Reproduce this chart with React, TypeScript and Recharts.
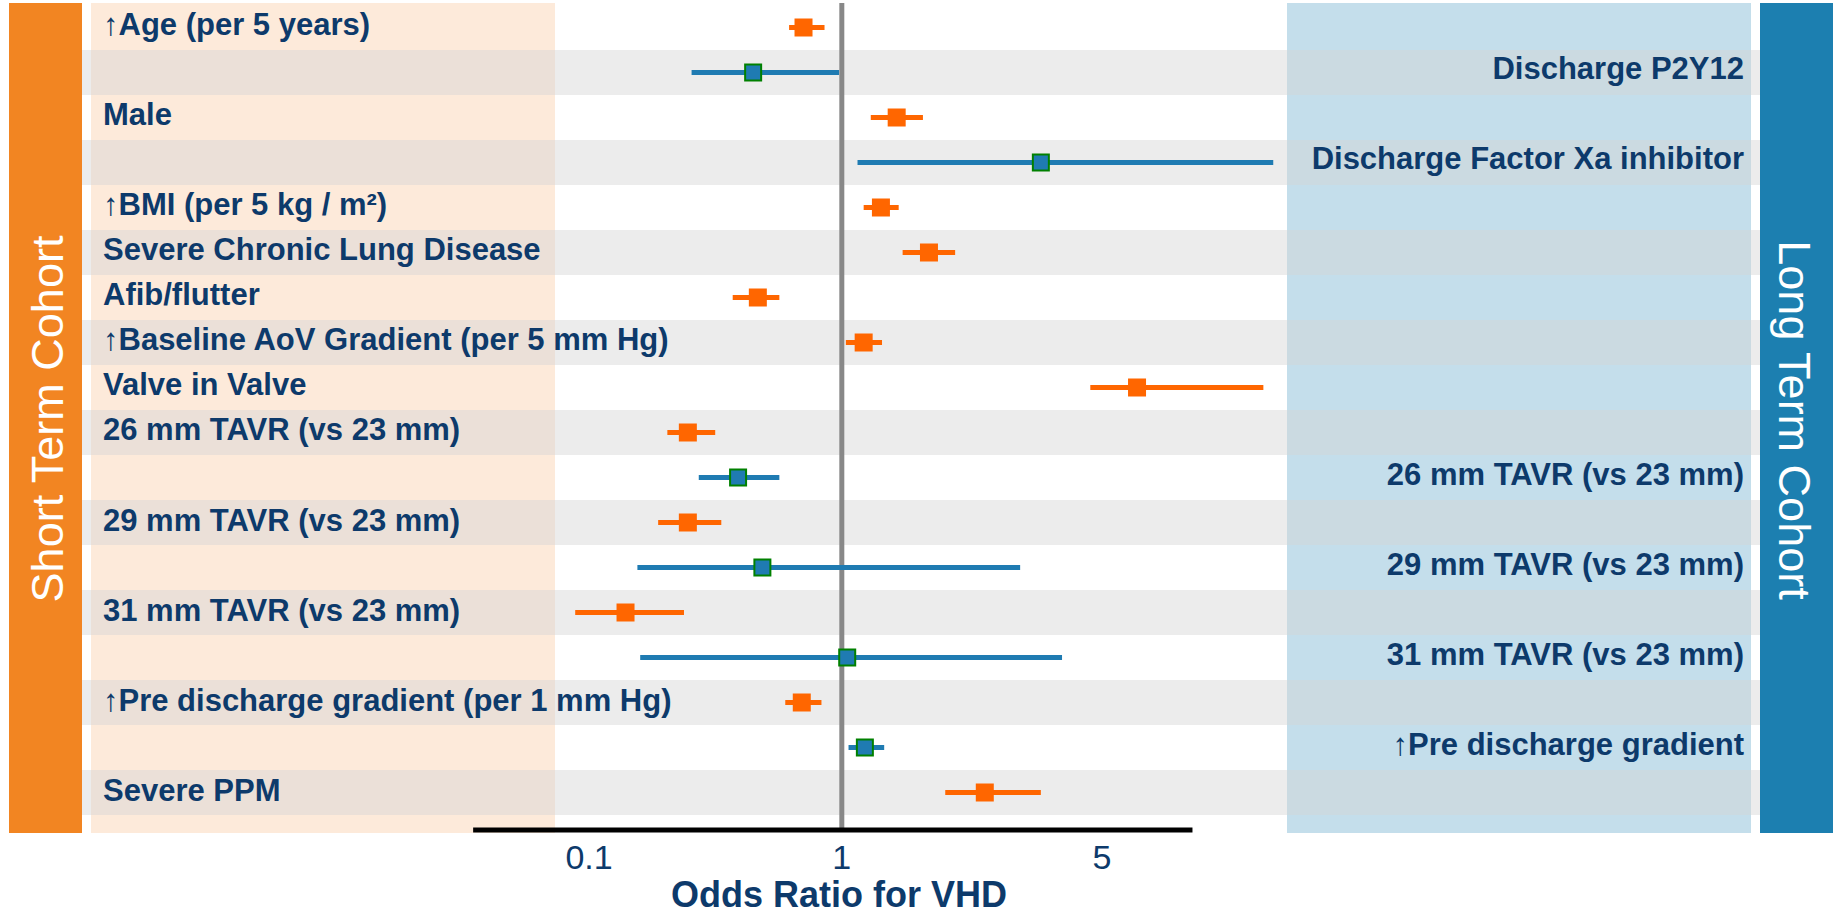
import { ErrorBar, ReferenceArea, ReferenceLine, Scatter, ScatterChart, XAxis, YAxis } from "recharts";

// rows top -> bottom; "short" = short term cohort, "long" = long term cohort
const rowLabels = [
  "↑Age (per 5 years)",
  "Discharge P2Y12",
  "Male",
  "Discharge Factor Xa inhibitor",
  "↑BMI (per 5 kg / m²)",
  "Severe Chronic Lung Disease",
  "Afib/flutter",
  "↑Baseline AoV Gradient (per 5 mm Hg)",
  "Valve in Valve",
  "26 mm TAVR (vs 23 mm)",
  "26 mm TAVR (vs 23 mm)",
  "29 mm TAVR (vs 23 mm)",
  "29 mm TAVR (vs 23 mm)",
  "31 mm TAVR (vs 23 mm)",
  "31 mm TAVR (vs 23 mm)",
  "↑Pre discharge gradient (per 1 mm Hg)",
  "↑Pre discharge gradient",
  "Severe PPM",
];
const cohorts = [
  "short", "long", "short", "long", "short", "short", "short", "short", "short",
  "short", "long", "short", "long", "short", "long", "short", "long", "short",
];
const oddsRatio = [0.75, 0.5, 1.47, 3.58, 1.32, 1.82, 0.52, 1.17, 6.0, 0.28, 0.44, 0.28, 0.54, 0.15, 1.04, 0.74, 1.18, 2.58];
const ciLower = [0.67, 0.29, 1.23, 1.12, 1.17, 1.53, 0.42, 1.03, 4.7, 0.23, 0.31, 0.21, 0.17, 0.085, 0.175, 0.65, 1.05, 2.02];
const ciUpper = [0.88, 0.98, 1.75, 11.5, 1.49, 2.15, 0.62, 1.33, 11.0, 0.36, 0.62, 0.38, 3.18, 0.27, 4.03, 0.86, 1.35, 3.58];
const xTicks = [0.1, 1, 5];
const axisExtent = [0.021, 7.9];

// the printed axis is a compressed (power) odds-ratio axis
const POWER = 0.2;
const toAxis = (v: number) => (Math.pow(v, POWER) - 1) / POWER;
const fromAxis = (t: number) => Math.pow(1 + POWER * t, 1 / POWER);

const T_DOMAIN: [number, number] = [-5.546, 6.702];
const Y_DOMAIN: [number, number] = [-0.5444, 17.8333];

const FONT = '"Liberation Sans", Arial, sans-serif';
const NAVY = "#0D3A6B";
const ORANGE = "#FF6600";
const BLUE = "#1F7BB2";
const GREEN = "#008000";
const BAR_ORANGE = "#F28522";
const BAR_BLUE = "#1C7FB0";

const rows = rowLabels.map((label, i) => {
  const x = toAxis(oddsRatio[i]);
  return {
    row: i,
    label,
    cohort: cohorts[i],
    x,
    err: [x - toAxis(ciLower[i]), toAxis(ciUpper[i]) - x],
  };
});
const shortRows = rows.filter((r) => r.cohort === "short");
const longRows = rows.filter((r) => r.cohort === "long");
const stripeRows = rows.filter((r) => r.row % 2 === 1).map((r) => r.row);

const LeftTick = ({ y, payload }: any) => (
  <text x={103} y={y + 8} fill={NAVY} fontSize={31} fontWeight="bold" fontFamily={FONT} textAnchor="start">
    {rowLabels[payload.value]}
  </text>
);

const RightTick = ({ y, payload }: any) => (
  <text x={1744} y={y + 7} fill={NAVY} fontSize={31} fontWeight="bold" fontFamily={FONT} textAnchor="end">
    {rowLabels[payload.value]}
  </text>
);

const ShortMarker = ({ cx, cy }: any) => <rect x={cx - 9} y={cy - 9} width={18} height={18} fill={ORANGE} />;
const LongMarker = ({ cx, cy }: any) => (
  <rect x={cx - 8} y={cy - 8} width={16} height={16} fill={BLUE} stroke={GREEN} strokeWidth={2} />
);

export default function App() {
  return (
    <div style={{ position: "absolute", left: 0, top: 0, width: 1839, height: 914, background: "#fff", fontFamily: FONT }}>
      <svg width={1839} height={914} style={{ position: "absolute", left: 0, top: 0 }}>
        <rect x={9} y={3} width={73} height={830} fill={BAR_ORANGE} />
        <rect x={1760} y={3} width={73} height={830} fill={BAR_BLUE} />
        <rect x={91} y={3} width={464} height={830} fill={BAR_ORANGE} fillOpacity={0.17} />
        <rect x={1287} y={3} width={464} height={830} fill={BAR_BLUE} fillOpacity={0.26} />
        <text x={63} y={419} transform="rotate(-90 63 419)" textAnchor="middle" fill="#fff" fontSize={45} fontFamily={FONT}>
          Short Term Cohort
        </text>
        <text x={1779} y={420} transform="rotate(90 1779 420)" textAnchor="middle" fill="#fff" fontSize={45} fontFamily={FONT}>
          Long Term Cohort
        </text>
      </svg>
      <div style={{ position: "absolute", left: 0, top: 0 }}>
        <ScatterChart width={1839} height={914} margin={{ top: 3, right: 0, bottom: 0, left: 0 }}>
          <XAxis
            type="number"
            dataKey="x"
            domain={T_DOMAIN}
            allowDataOverflow
            ticks={xTicks.map(toAxis)}
            tickFormatter={(t: number) => String(+fromAxis(t).toPrecision(2))}
            axisLine={false}
            tickLine={false}
            tickMargin={9}
            height={84}
            tick={{ fill: NAVY, fontSize: 34, fontFamily: FONT }}
            label={{
              value: "Odds Ratio for VHD",
              position: "insideBottom",
              offset: 7,
              dx: -82,
              fill: NAVY,
              fontSize: 36,
              fontWeight: "bold",
              fontFamily: FONT,
            }}
          />
          <YAxis
            yAxisId="left"
            type="number"
            dataKey="row"
            domain={Y_DOMAIN}
            allowDataOverflow
            reversed
            width={82}
            ticks={shortRows.map((r) => r.row)}
            interval={0}
            axisLine={false}
            tickLine={false}
            tick={<LeftTick />}
          />
          <YAxis
            yAxisId="right"
            orientation="right"
            type="number"
            dataKey="row"
            domain={Y_DOMAIN}
            allowDataOverflow
            reversed
            width={79}
            ticks={longRows.map((r) => r.row)}
            interval={0}
            axisLine={false}
            tickLine={false}
            tick={<RightTick />}
          />
          {stripeRows.map((k) => (
            <ReferenceArea key={k} yAxisId="left" y1={k - 0.5} y2={k + 0.5} fill="#D4D4D4" fillOpacity={0.45} stroke="none" />
          ))}
          <ReferenceLine yAxisId="left" x={toAxis(1)} stroke="#888888" strokeWidth={5} />
          <ReferenceLine
            yAxisId="left"
            segment={[
              { x: toAxis(axisExtent[0]), y: Y_DOMAIN[1] },
              { x: toAxis(axisExtent[1]), y: Y_DOMAIN[1] },
            ]}
            stroke="#000"
            strokeWidth={5}
          />
          <Scatter yAxisId="left" data={shortRows} shape={<ShortMarker />} isAnimationActive={false}>
            <ErrorBar dataKey="err" direction="x" width={0} stroke={ORANGE} strokeWidth={5} isAnimationActive={false} />
          </Scatter>
          <Scatter yAxisId="right" data={longRows} shape={<LongMarker />} isAnimationActive={false}>
            <ErrorBar dataKey="err" direction="x" width={0} stroke={BLUE} strokeWidth={5} isAnimationActive={false} />
          </Scatter>
        </ScatterChart>
      </div>
    </div>
  );
}
